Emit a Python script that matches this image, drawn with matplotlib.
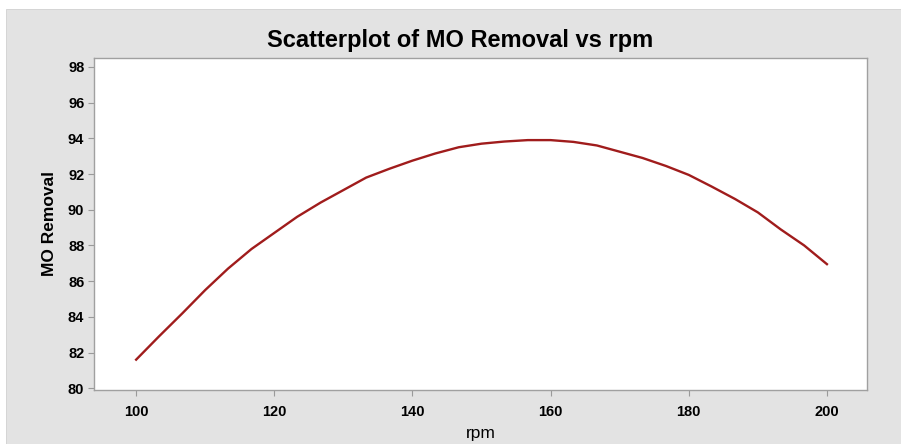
import matplotlib
matplotlib.use("Agg")
import matplotlib.pyplot as plt
from matplotlib.patches import Rectangle

rpm = [100, 103.3, 106.7, 110, 113.3, 116.7, 120, 123.3, 126.7, 130, 133.3,
       136.7, 140, 143.3, 146.7, 150, 153.3, 156.7, 160, 163.3, 166.7, 170,
       173.3, 176.7, 180, 183.3, 186.7, 190, 193.3, 196.7, 200]
mo_removal = [81.6, 82.9, 84.2, 85.5, 86.7, 87.8, 88.7, 89.6, 90.4, 91.1, 91.8,
              92.3, 92.75, 93.15, 93.5, 93.7, 93.82, 93.9, 93.9, 93.8, 93.6, 93.25,
              92.9, 92.45, 91.95, 91.3, 90.6, 89.85, 88.9, 88.0, 86.95]
x_ticks = [100, 120, 140, 160, 180, 200]
y_ticks = [80, 82, 84, 86, 88, 90, 92, 94, 96, 98]

plt.rcParams['font.family'] = ['Liberation Sans', 'DejaVu Sans']

fig = plt.figure(figsize=(9.01, 4.44), dpi=100, facecolor='white')
fig.patches.append(Rectangle((6/901, 0), 1 - 6/901, (444 - 9)/444,
                             transform=fig.transFigure, facecolor='#e3e3e3',
                             edgecolor='#d0d0d0', linewidth=0.6, zorder=-5))

ax = fig.add_axes([94/901, 54/444, (867 - 94)/901, (390 - 58)/444])
ax.set_zorder(2)
ax.set_facecolor('white')
ax.plot(rpm, mo_removal, color='#a01c1c', linewidth=1.7)

ax.set_xlim(93.9, 205.8)
ax.set_ylim(79.9, 98.5)
ax.set_xticks(x_ticks)
ax.set_yticks(y_ticks)
ax.set_xticklabels([str(t) for t in x_ticks], fontsize=10.5, fontweight='bold')
ax.set_yticklabels([str(t) for t in y_ticks], fontsize=10.5, fontweight='bold')
ax.tick_params(axis='both', direction='out', length=4, width=0.8, color='#9a9a9a', pad=3)
ax.tick_params(axis='x', pad=7)
for s in ax.spines.values():
    s.set_color('#a0a0a0')
    s.set_linewidth(1.0)

ax.set_xlabel('rpm', fontsize=12.5, labelpad=5)
ax.set_ylabel('MO Removal', fontsize=12.5, fontweight='bold', labelpad=8)
fig.text(460/901, 1 - 40/444, 'Scatterplot of MO Removal vs rpm', fontsize=17,
         fontweight='bold', ha='center', va='center', zorder=3)

fig.savefig('out.png', dpi=100, facecolor=fig.get_facecolor())
